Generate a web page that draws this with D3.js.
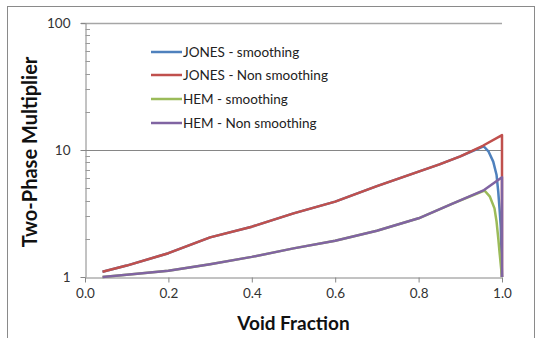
<!DOCTYPE html>
<html>
<head>
<meta charset="utf-8">
<script src="https://cdn.jsdelivr.net/npm/d3@7"></script>
<style>
  html, body { margin: 0; padding: 0; background: #ffffff; }
  svg { display: block; }
</style>
</head>
<body>
<script>
// ---- Data ----
const seriesNames = ["JONES - smoothing", "JONES - Non smoothing", "HEM - smoothing", "HEM - Non smoothing"];
const seriesColors = ["#4F81BD", "#C0504D", "#9BBB59", "#8064A2"];

const jonesSmoothX = [0.042, 0.1, 0.2, 0.3, 0.4, 0.5, 0.6, 0.7, 0.8, 0.85, 0.9, 0.956, 0.968, 0.979, 0.987, 0.991, 0.994, 0.997, 1.0];
const jonesSmoothY = [1.10, 1.23, 1.54, 2.05, 2.49, 3.17, 3.92, 5.2, 6.76, 7.7, 8.9, 10.7, 9.7, 8.1, 6.35, 4.7, 3.47, 2.5, 1.0];

const jonesNonX = [0.042, 0.1, 0.2, 0.3, 0.4, 0.5, 0.6, 0.7, 0.8, 0.85, 0.9, 0.954, 1.0, 1.0];
const jonesNonY = [1.10, 1.23, 1.54, 2.05, 2.49, 3.17, 3.92, 5.2, 6.76, 7.7, 8.9, 10.8, 13.1, 1.0];

const hemSmoothX = [0.042, 0.1, 0.2, 0.3, 0.4, 0.5, 0.6, 0.7, 0.8, 0.88, 0.958, 0.971, 0.982, 0.987, 0.991, 0.994, 0.997, 1.0];
const hemSmoothY = [1.0, 1.04, 1.12, 1.26, 1.44, 1.68, 1.93, 2.31, 2.9, 3.76, 4.8, 4.29, 3.47, 2.72, 2.02, 1.58, 1.25, 1.0];

const hemNonX = [0.042, 0.1, 0.2, 0.3, 0.4, 0.5, 0.6, 0.7, 0.8, 0.88, 0.957, 1.0, 1.0];
const hemNonY = [1.0, 1.04, 1.12, 1.26, 1.44, 1.68, 1.93, 2.31, 2.9, 3.76, 4.84, 6.1, 1.0];

const xTicks = [0, 0.2, 0.4, 0.6, 0.8, 1.0];
const yTicks = [1, 10, 100];
const yMinorTicks = [2, 3, 4, 5, 6, 7, 8, 9, 20, 30, 40, 50, 60, 70, 80, 90];
const xTitle = "Void Fraction";
const yTitle = "Two-Phase  Multiplier";

// ---- Layout ----
const W = 535, H = 338;
const plot = { left: 85, right: 502, top: 23, bottom: 277 };
const font = "Lato, 'Open Sans', sans-serif";

const svg = d3.select("body").append("svg").attr("width", W).attr("height", H);

// outer chart border
svg.append("rect")
  .attr("x", 7.5).attr("y", 6.5)
  .attr("width", 527).attr("height", 340)
  .attr("fill", "#fff").attr("stroke", "#8a8a8a").attr("stroke-width", 1);

const x = d3.scaleLinear().domain([0, 1]).range([plot.left, plot.right]);
const y = d3.scaleLog().domain([1, 100]).range([plot.bottom, plot.top]);

// gridlines
svg.append("g").selectAll("line")
  .data(yTicks.filter(d => d > 1))
  .join("line")
  .attr("x1", plot.left - 4).attr("x2", plot.right)
  .attr("y1", d => Math.round(y(d)) + 0.5).attr("y2", d => Math.round(y(d)) + 0.5)
  .attr("stroke", d => d === 100 ? "#a6a6a6" : "#868686")
  .attr("stroke-width", d => d === 100 ? 1.6 : 1);

// y axis (major ticks outside)
const yAxis = d3.axisLeft(y).tickValues(yTicks).tickFormat(d3.format("d")).tickSizeInner(5).tickSizeOuter(0).tickPadding(10);
const gy = svg.append("g").attr("transform", `translate(${plot.left + 0.5},0)`).call(yAxis);
gy.select(".domain").attr("stroke", "#868686");
gy.selectAll(".tick line").attr("stroke", "#868686");
gy.selectAll(".tick text").attr("font-family", font).attr("font-size", 13.5).attr("fill", "#333");

// y minor ticks (inside)
svg.append("g").selectAll("line")
  .data(yMinorTicks)
  .join("line")
  .attr("x1", plot.left + 0.5).attr("x2", plot.left + 5)
  .attr("y1", d => Math.round(y(d)) + 0.5).attr("y2", d => Math.round(y(d)) + 0.5)
  .attr("stroke", "#9a9a9a").attr("stroke-width", 1);

// x axis
const xAxis = d3.axisBottom(x).tickValues(xTicks).tickFormat(d3.format(".1f")).tickSizeInner(5).tickSizeOuter(0).tickPadding(6);
const gx = svg.append("g").attr("transform", `translate(0,${plot.bottom + 0.5})`).call(xAxis);
gx.select(".domain").attr("stroke", "#868686");
gx.selectAll(".tick line").attr("stroke", "#868686");
gx.selectAll(".tick text").attr("font-family", font).attr("font-size", 13.5).attr("fill", "#333");

// series
const seriesData = [
  { xs: jonesSmoothX, ys: jonesSmoothY },
  { xs: jonesNonX, ys: jonesNonY },
  { xs: hemSmoothX, ys: hemSmoothY },
  { xs: hemNonX, ys: hemNonY }
];
const line = d3.line().x(d => x(d[0])).y(d => y(d[1]));
svg.append("g").selectAll("path")
  .data(seriesData)
  .join("path")
  .attr("d", s => line(s.xs.map((v, i) => [v, s.ys[i]])))
  .attr("fill", "none")
  .attr("stroke", (s, i) => seriesColors[i])
  .attr("stroke-width", 2.5)
  .attr("stroke-linejoin", "round");

// legend
const legend = svg.append("g");
const legendRows = [52, 75, 99, 123];
seriesNames.forEach((name, i) => {
  legend.append("line")
    .attr("x1", 151).attr("x2", 182)
    .attr("y1", legendRows[i]).attr("y2", legendRows[i])
    .attr("stroke", seriesColors[i]).attr("stroke-width", 2.5);
  legend.append("text")
    .attr("x", 183).attr("y", legendRows[i])
    .attr("dy", "0.35em")
    .attr("font-family", font).attr("font-size", 13.5)
    .attr("fill", "#222")
    .text(name);
});

// axis titles
svg.append("text")
  .attr("x", (plot.left + plot.right) / 2 + 0).attr("y", 323)
  .attr("dy", "0.35em")
  .attr("text-anchor", "middle")
  .attr("font-family", font).attr("font-weight", "bold").attr("font-size", 19)
  .attr("fill", "#111")
  .text(xTitle);

svg.append("text")
  .attr("transform", `translate(30,152) rotate(-90)`)
  .attr("dy", "0.35em")
  .attr("text-anchor", "middle")
  .attr("font-family", font).attr("font-weight", "bold").attr("font-size", 20)
  .attr("fill", "#111")
  .text(yTitle);
</script>
</body>
</html>
